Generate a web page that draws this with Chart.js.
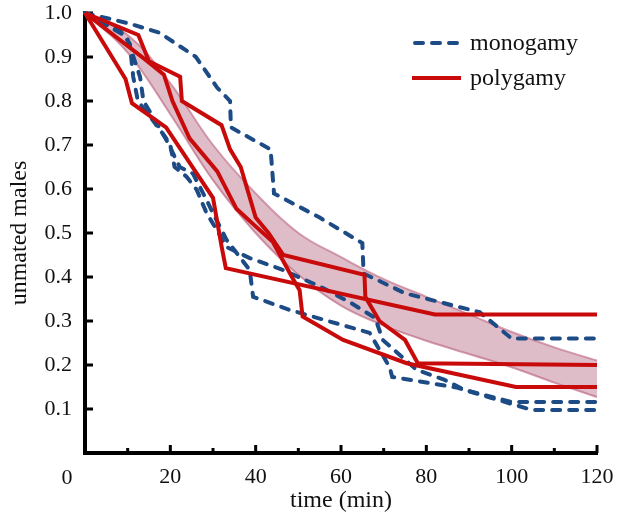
<!DOCTYPE html>
<html>
<head>
<meta charset="utf-8">
<title>unmated males over time</title>
<script src="https://cdn.jsdelivr.net/npm/chart.js@4.4.1/dist/chart.umd.min.js"></script>
<style>
  html, body { margin: 0; padding: 0; background: #fff; }
  #wrap { width: 617px; height: 520px; }
</style>
</head>
<body>
<div id="wrap"><canvas id="chart" width="617" height="520"></canvas></div>
<script>
// ticks
const xTicks = [0, 20, 40, 60, 80, 100, 120];
const xMinorTicks = [10, 30, 50, 70, 90, 110];
const yTicks = [0.1, 0.2, 0.3, 0.4, 0.5, 0.6, 0.7, 0.8, 0.9, 1.0];

// polygamy replicates (red, solid)
const poly1Time  = [0, 9.5, 11, 19, 30, 32, 33, 82, 120];
const poly1Value = [1, 0.85, 0.795, 0.74, 0.58, 0.47, 0.42, 0.315, 0.315];
const poly2Time  = [0, 12.5, 15, 22.3, 22.7, 32, 34, 36.5, 40, 43, 46.5, 65.5, 65.7, 69, 75, 78, 120];
const poly2Value = [1, 0.95, 0.89, 0.855, 0.80, 0.745, 0.69, 0.65, 0.535, 0.50, 0.45, 0.405, 0.355, 0.30, 0.257, 0.204, 0.2];
const poly3Time  = [0, 14, 18.5, 20.5, 24.5, 31, 35.5, 40, 44, 48.5, 50.3, 51, 60.5, 75.4, 101, 120];
const poly3Value = [1, 0.895, 0.86, 0.80, 0.715, 0.64, 0.555, 0.515, 0.48, 0.40, 0.37, 0.31, 0.257, 0.204, 0.15, 0.15];

// monogamy replicates (blue, dashed)
const mono1Time  = [0, 10, 17.5, 26, 31, 34, 34.2, 43.5, 44.3, 55, 65, 65.3, 75, 92.5, 100, 120];
const mono1Value = [1, 0.977, 0.955, 0.90, 0.83, 0.80, 0.74, 0.69, 0.59, 0.535, 0.477, 0.408, 0.363, 0.32, 0.26, 0.26];
const mono2Time  = [0, 8.2, 10.5, 11.3, 12.4, 15.2, 19.9, 21, 23.8, 26.2, 28.5, 30.9, 33.2, 38.6, 46.4, 55.8, 62, 68, 69.8, 77.7, 84.3, 89, 100, 120];
const mono2Value = [1, 0.96, 0.93, 0.855, 0.80, 0.765, 0.704, 0.65, 0.628, 0.598, 0.545, 0.507, 0.468, 0.443, 0.416, 0.375, 0.343, 0.307, 0.257, 0.189, 0.166, 0.143, 0.116, 0.116];
const mono3Time  = [0, 9.8, 12.9, 13.7, 16.8, 19.1, 22.2, 25.3, 28.5, 30, 33.2, 38.6, 39.4, 48, 62, 66.7, 71.4, 72, 80.8, 87.4, 95.3, 104.7, 120];
const mono3Value = [1, 0.946, 0.855, 0.80, 0.75, 0.711, 0.65, 0.635, 0.575, 0.545, 0.484, 0.416, 0.355, 0.325, 0.286, 0.273, 0.195, 0.173, 0.159, 0.148, 0.125, 0.098, 0.098];

// shaded band
const bandTime  = [0, 10, 20, 30, 40, 50, 60, 70, 80, 90, 100, 110, 120];
const bandUpper = [1.0, 0.95, 0.84, 0.70, 0.59, 0.50, 0.445, 0.395, 0.355, 0.315, 0.275, 0.24, 0.21];
const bandLower = [1.0, 0.91, 0.77, 0.62, 0.50, 0.405, 0.335, 0.29, 0.255, 0.225, 0.195, 0.16, 0.127];

const legendLabels = ['monogamy', 'polygamy'];

const RED = '#c80a0a';
const BLUE = '#1d4b85';
const SERIF = '"Liberation Serif", "DejaVu Serif", serif';

function pts(ts, vs) {
    return ts.map((t, i) => ({ x: t, y: vs[i] }));
}

function redLine(ts, vs) {
    return { data: pts(ts, vs), borderColor: RED, borderWidth: 4, pointRadius: 0, tension: 0, fill: false, clip: false, order: 1 };
}
function blueLine(ts, vs) {
    return { data: pts(ts, vs), borderColor: BLUE, borderWidth: 4, borderDash: [8, 9], borderCapStyle: 'round',
             pointRadius: 0, tension: 0, fill: false, clip: false, order: 2 };
}

// axes with inward ticks, "0" at the corner, and the legend
const decor = {
    id: 'decor',
    beforeDatasetsDraw(chart) {
        const { ctx, chartArea: a, scales: { x, y } } = chart;
        ctx.save();
        ctx.strokeStyle = '#000';
        ctx.lineWidth = 3;
        ctx.beginPath();
        yTicks.forEach(v => {
            const py = y.getPixelForValue(v);
            ctx.moveTo(a.left, py); ctx.lineTo(a.left + 8, py);
        });
        xTicks.forEach(v => {
            const px = x.getPixelForValue(v);
            ctx.moveTo(px, a.bottom); ctx.lineTo(px, a.bottom - 8);
        });
        xMinorTicks.forEach(v => {
            const px = x.getPixelForValue(v);
            ctx.moveTo(px, a.bottom); ctx.lineTo(px, a.bottom - 5);
        });
        ctx.stroke();
        ctx.lineWidth = 4;
        ctx.beginPath();
        ctx.moveTo(a.left, y.getPixelForValue(1.0) - 2);
        ctx.lineTo(a.left, a.bottom);
        ctx.lineTo(x.getPixelForValue(120) + 1, a.bottom);
        ctx.stroke();

        ctx.fillStyle = '#111';
        ctx.font = '22px ' + SERIF;
        ctx.textAlign = 'center';
        ctx.textBaseline = 'middle';
        ctx.fillText(String(xTicks[0]), a.left - 18, a.bottom + 25);
        ctx.restore();
    },
    afterDraw(chart) {
        const { ctx } = chart;
        ctx.save();
        ctx.lineWidth = 4;
        ctx.strokeStyle = BLUE;
        ctx.lineCap = 'round';
        ctx.setLineDash([8, 9]);
        ctx.beginPath(); ctx.moveTo(415, 43); ctx.lineTo(460, 43); ctx.stroke();
        ctx.setLineDash([]);
        ctx.lineCap = 'butt';
        ctx.strokeStyle = RED;
        ctx.beginPath(); ctx.moveTo(412, 78); ctx.lineTo(461, 78); ctx.stroke();
        ctx.fillStyle = '#111';
        ctx.font = '24px ' + SERIF;
        ctx.textAlign = 'left';
        ctx.textBaseline = 'middle';
        ctx.fillText(legendLabels[0], 470, 44);
        ctx.fillText(legendLabels[1], 470, 79);
        ctx.restore();
    }
};

new Chart(document.getElementById('chart'), {
    type: 'line',
    data: {
        datasets: [
            redLine(poly1Time, poly1Value),
            redLine(poly2Time, poly2Value),
            redLine(poly3Time, poly3Value),
            blueLine(mono1Time, mono1Value),
            blueLine(mono2Time, mono2Value),
            blueLine(mono3Time, mono3Value),
            { data: pts(bandTime, bandUpper), borderColor: 'rgba(195,115,140,0.7)', borderWidth: 2,
              backgroundColor: 'rgba(175,90,118,0.4)', pointRadius: 0, tension: 0.4, fill: '+1', order: 3 },
            { data: pts(bandTime, bandLower), borderColor: 'rgba(195,115,140,0.7)', borderWidth: 2,
              pointRadius: 0, tension: 0.4, fill: false, order: 3 }
        ]
    },
    options: {
        responsive: false,
        animation: false,
        layout: { padding: { top: 13, right: 20, left: 0, bottom: 0 } },
        plugins: { legend: { display: false }, tooltip: { enabled: false } },
        scales: {
            x: {
                type: 'linear', min: 0, max: 120,
                afterBuildTicks: s => { s.ticks = xTicks.map(v => ({ value: v })); },
                afterFit: s => { s.height = 67; s.paddingLeft = 0; s.paddingRight = 0; },
                grid: { display: false, drawTicks: false },
                border: { display: false },
                ticks: { padding: 11, color: '#111', font: { family: SERIF, size: 22 },
                         maxRotation: 0, callback: v => (v === 0 ? '' : String(v)) },
                title: { display: true, text: 'time (min)', color: '#111',
                         font: { family: SERIF, size: 24 }, padding: { top: 0, bottom: 5 } }
            },
            y: {
                type: 'linear', min: 0, max: 1.0,
                afterBuildTicks: s => { s.ticks = yTicks.map(v => ({ value: v })); },
                afterFit: s => { s.width = 85; s.paddingTop = 0; s.paddingBottom = 0; },
                grid: { display: false, drawTicks: false },
                border: { display: false },
                ticks: { padding: 13, color: '#111', font: { family: SERIF, size: 22 },
                         callback: v => Number(v).toFixed(1) },
                title: { display: true, text: 'unmated males', color: '#111',
                         font: { family: SERIF, size: 24 }, padding: { top: 5, bottom: 0 } }
            }
        }
    },
    plugins: [decor]
});
</script>
</body>
</html>
